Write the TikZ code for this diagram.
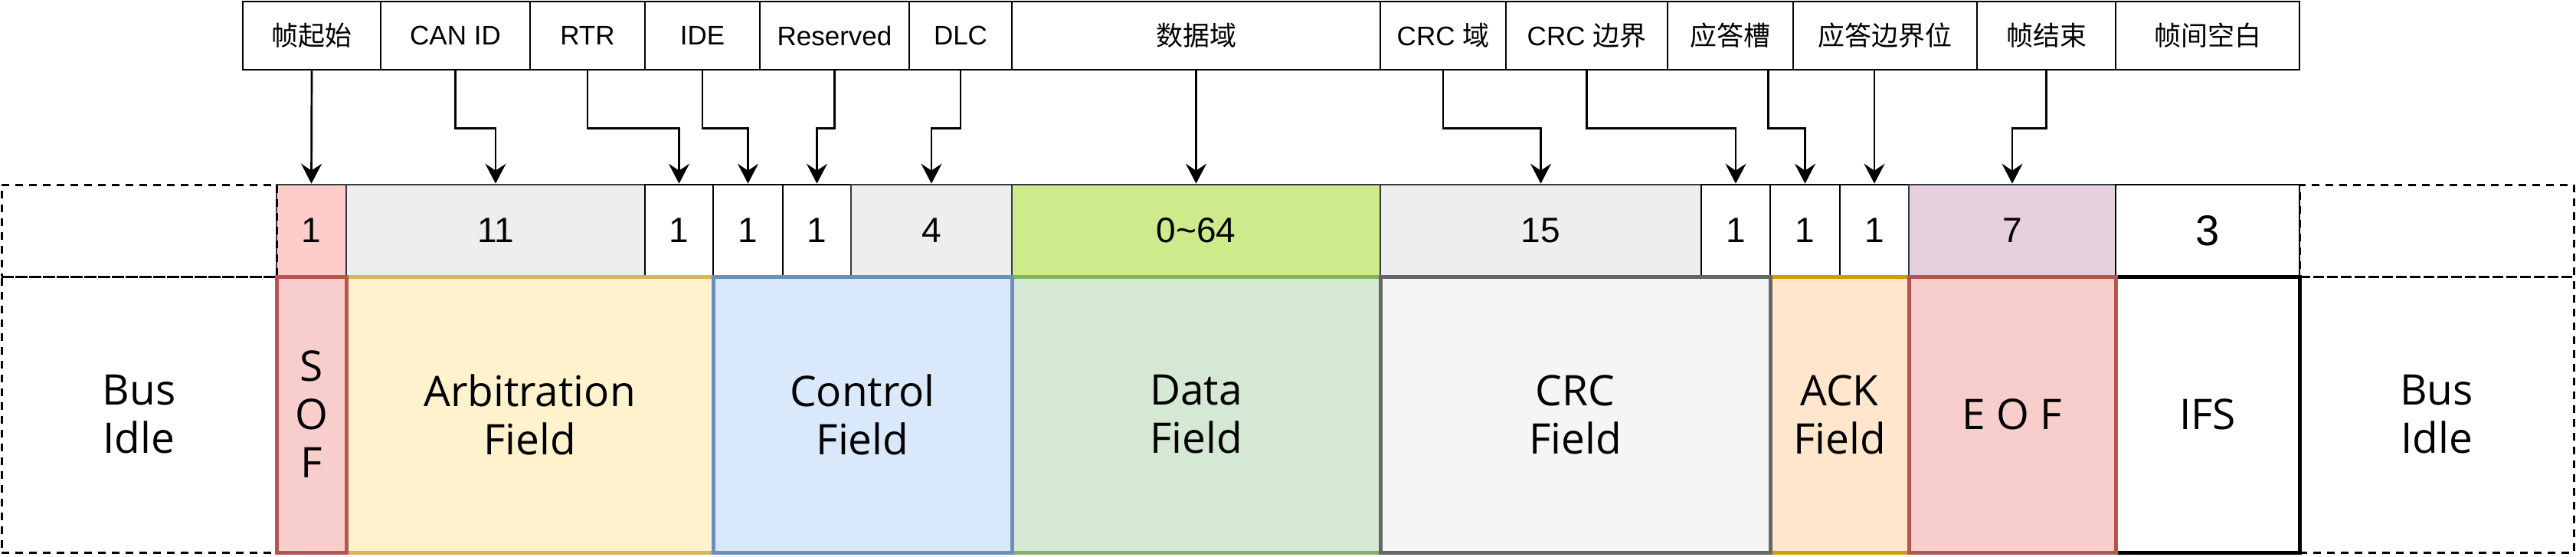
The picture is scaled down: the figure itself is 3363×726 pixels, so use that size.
\documentclass[tikz,border=0pt]{standalone}
\usepackage{fontspec}
\setmainfont{Open Sans}
\newfontfamily\arialfont{Liberation Sans}
\newfontfamily\cjkfont{Noto Sans CJK SC}
\usetikzlibrary{arrows.meta}

\newcommand{\zhtxt}[1]{{\cjkfont #1}}
\newcommand{\lblfont}{\arialfont\fontsize{35}{42}\selectfont}
\newcommand{\bitfont}{\arialfont\fontsize{46}{55}\selectfont}
\newcommand{\fieldfont}{\fontsize{55}{63}\selectfont}

\definecolor{bitline}{HTML}{36393D}
\definecolor{bitgray}{HTML}{EEEEEE}
\definecolor{bitpink}{HTML}{FFCCCC}
\definecolor{bitgreen}{HTML}{CDEB8B}
\definecolor{bitpurple}{HTML}{E6D0DE}
\definecolor{redbg}{HTML}{F8CECC}
\definecolor{redline}{HTML}{B85450}
\definecolor{yellowbg}{HTML}{FFF2CC}
\definecolor{yellowline}{HTML}{D6B656}
\definecolor{bluebg}{HTML}{DAE8FC}
\definecolor{blueline}{HTML}{6C8EBF}
\definecolor{greenbg}{HTML}{D5E8D4}
\definecolor{greenline}{HTML}{82B366}
\definecolor{graybg}{HTML}{F5F5F5}
\definecolor{grayline}{HTML}{666666}
\definecolor{orangebg}{HTML}{FFE6CC}
\definecolor{orangeline}{HTML}{D79B00}

\begin{document}
\begin{tikzpicture}[x=1pt, y=-1pt,
  toplbl/.style={draw, line width=2.7pt, minimum height=89pt, inner sep=0pt, font=\lblfont},
  bitcell/.style={draw, line width=2.7pt, minimum height=120pt, inner sep=0pt, font=\bitfont},
  fieldcell/.style={draw, line width=5pt, minimum height=360pt, inner sep=0pt, align=center, font=\fieldfont},
  idlebox/.style={draw, dash pattern=on 10pt off 8pt, line width=3pt, inner sep=0pt, align=center, font=\fieldfont},
  arr/.style={line width=2.7pt, -{Stealth[length=26pt, width=27pt, inset=9pt]}}]
\useasboundingbox (0, 0) rectangle (3363, 726);

\foreach \l/\r/\n/\t in {
  317/497/lSOF/{\zhtxt{帧起始}}, 497/692/lID/{CAN ID}, 692/842/lRTR/RTR,
  842/992/lIDE/IDE, 992/1187/lRes/Reserved, 1187/1321/lDLC/DLC,
  1321/1802/lData/{\zhtxt{数据域}}, 1802/1966/lCRC/{CRC \zhtxt{域}},
  1966/2177/lCRCdel/{CRC \zhtxt{边界}}, 2177/2341/lSlot/{\zhtxt{应答槽}},
  2341/2581/lDelim/{\zhtxt{应答边界位}}, 2581/2762/lEOF/{\zhtxt{帧结束}},
  2762/3002/lIFS/{\zhtxt{帧间空白}}} {
  \node[toplbl, minimum width={\r-\l}] (\n) at ({(\l+\r)/2}, 46.5) {\t};
}

\foreach \l/\r/\n/\t/\f/\d in {
  361/452/bSOF/1/bitpink/bitline, 452/842/bID/11/bitgray/bitline,
  842/931/bRTR/1/white/black, 931/1022/bIDE/1/white/black,
  1022/1111/bRes/1/white/black, 1111/1321/bDLC/4/bitgray/bitline,
  1321/1802/bData/{0\textasciitilde 64}/bitgreen/bitline,
  1802/2221/bCRC/15/bitgray/bitline, 2221/2311/bCRCdel/1/white/black,
  2311/2402/bSlot/1/white/black, 2402/2492/bDelim/1/white/black,
  2492/2762/bEOF/7/bitpurple/bitline,
  2762/3002/bIFS/{\fontsize{56}{60}\selectfont 3}/white/black} {
  \node[bitcell, fill=\f, draw=\d, minimum width={\r-\l}] (\n) at ({(\l+\r)/2}, 301) {\t};
}

\node[idlebox, minimum width=359pt, minimum height=120pt] (bIdleL) at (181.5, 301) {};
\node[idlebox, minimum width=359pt, minimum height=360pt] (fIdleL) at (181.5, 541) {Bus\\Idle};
\node[idlebox, minimum width=358pt, minimum height=120pt] (bIdleR) at (3181, 301) {};
\node[idlebox, minimum width=358pt, minimum height=360pt] (fIdleR) at (3181, 541) {Bus\\Idle};

\foreach \l/\r/\n/\t/\f/\d in {
  1321/1802/fData/{Data\\Field}/greenbg/greenline,
  452/931/fArb/{Arbitration\\Field}/yellowbg/yellowline,
  931/1321/fCtrl/{Control\\Field}/bluebg/blueline,
  361/452/fSOF/{S\\O\\F}/redbg/redline,
  2311/2492/fACK/{ACK\\Field}/orangebg/orangeline,
  1802/2311/fCRC/{CRC\\Field}/graybg/grayline,
  2762/3002/fIFS/IFS/white/black,
  2492/2762/fEOF/{E O F}/redbg/redline} {
  \node[fieldcell, fill=\f, draw=\d, minimum width={\r-\l}] (\n) at ({(\l+\r)/2}, 541) {\t};
}

\draw[arr] (lSOF.south) -- (bSOF.north);
\draw[arr] (lData.south) -- (bData.north);
\foreach \n in {ID, RTR, IDE, Res, DLC, CRC, CRCdel, EOF}
  \draw[arr] (l\n.south) -- ++(0, 75) -| (b\n.north);
\draw[arr] (lSlot.south -| fACK.west) -- ++(0, 75) -| (bSlot.north);
\draw[arr] (lDelim.south -| bDelim.north) -- (bDelim.north);
\end{tikzpicture}
\end{document}
